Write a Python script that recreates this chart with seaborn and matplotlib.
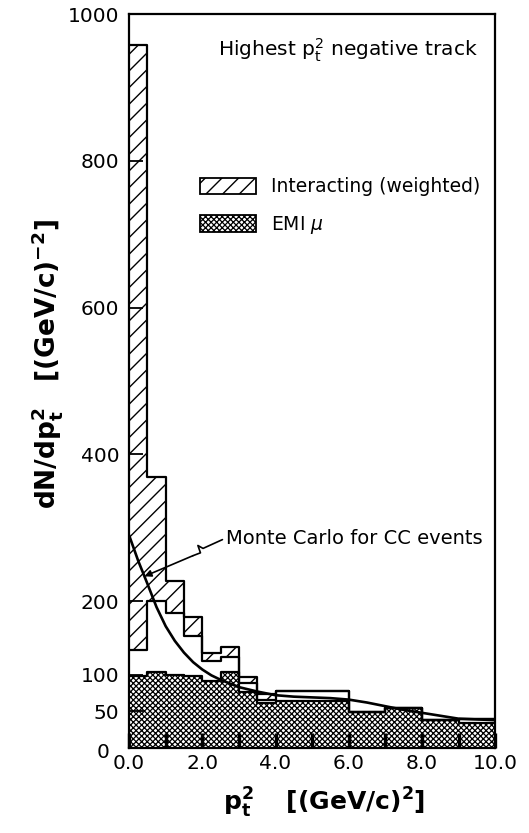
import numpy as np
import matplotlib
matplotlib.use("Agg")
import matplotlib.pyplot as plt
import matplotlib.transforms as mtransforms
from matplotlib.patches import Patch
import seaborn as sns

# p_t^2 bin edges, (GeV/c)^2
bin_edges = [0.0, 0.5, 1.0, 1.5, 2.0, 2.5, 3.0, 3.5, 4.0, 6.0, 7.0, 8.0, 9.0, 10.0]

# dN/dp_t^2 per bin, stacked from the bottom up
emi_mu = [98.5, 103.5, 100, 97.5, 92, 103, 76, 62, 63.5, 48.5, 54, 38.5, 34.5]
non_interacting = [34.5, 96.5, 84, 54.5, 26, 21, 13, 4, 14.5, 0, 0, 0, 5]
interacting_weighted = [825, 170, 44, 27, 11, 13, 8, 8, 0, 0, 0, 0, 0]

# Monte Carlo expectation for CC events
mc_pt2 = [0.0, 0.25, 0.5, 0.75, 1.0, 1.25, 1.5, 1.75, 2.0, 2.25, 2.5, 2.75, 3.0,
          3.5, 4.0, 4.5, 5.0, 5.5, 6.0, 6.5, 7.0, 7.5, 8.0, 8.5, 9.0, 9.5, 10.0]
mc_dndpt2 = [290, 255, 224, 192, 166, 146, 130, 117, 107, 99, 93, 88, 83,
             77, 72, 70, 69, 68, 66, 62, 57, 52, 48, 44, 40, 39, 38]

y_ticks = [0, 50, 100, 200, 400, 600, 800, 1000]
y_tick_labels = ["0", "50", "100", "200", "400", "600", "800", "1000"]
x_ticks = [0, 1, 2, 3, 4, 5, 6, 7, 8, 9, 10]
x_tick_labels = ["0.0", "", "2.0", "", "4.0", "", "6.0", "", "8.0", "", "10.0"]

EMI_HATCH = "xxxxxx"
EMI_HATCH_LW = 0.9

sns.set_style("ticks")
plt.rcParams["font.family"] = ["DejaVu Sans"]
plt.rcParams["mathtext.fontset"] = "dejavusans"
plt.rcParams["hatch.linewidth"] = 1.0
plt.rcParams["hatch.color"] = "black"
for key in ("text.color", "axes.labelcolor", "xtick.color", "ytick.color",
            "axes.edgecolor"):
    plt.rcParams[key] = "black"

fig = plt.figure(figsize=(5.29, 8.33), dpi=100)
ax = fig.add_axes([0.244, 0.102, 0.692, 0.881])

edges = np.array(bin_edges)
centers = list(0.5 * (edges[:-1] + edges[1:]))
level_emi = np.array(emi_mu, dtype=float)
level_mid = level_emi + np.array(non_interacting, dtype=float)
level_top = level_mid + np.array(interacting_weighted, dtype=float)


def fill_layer(heights, hatch):
    n_before = len(ax.patches)
    sns.histplot(x=centers, weights=list(heights), bins=bin_edges,
                 element="bars", fill=True, facecolor="white",
                 edgecolor="black", linewidth=0, hatch=hatch, ax=ax)
    return ax.patches[n_before:]


def outline_layer(heights):
    sns.histplot(x=centers, weights=list(heights), bins=bin_edges,
                 element="step", fill=False, color="black", linewidth=1.6,
                 ax=ax)


def fine_hatch(patches):
    for p in patches:
        if hasattr(p, "set_hatch_linewidth"):
            p.set_hatch_linewidth(EMI_HATCH_LW)


# hatched interacting part on top, plain band beneath, cross-hatched EMI mu at the bottom
fill_layer(level_top, "//")
fill_layer(level_mid, None)
with plt.rc_context({"hatch.linewidth": EMI_HATCH_LW}):
    fine_hatch(fill_layer(level_emi, EMI_HATCH))
for lev in (level_top, level_mid, level_emi):
    outline_layer(lev)

sns.lineplot(x=mc_pt2, y=mc_dndpt2, color="black", linewidth=1.9, ax=ax)

ax.set_axisbelow(False)
ax.set_xlim(0, 10)
ax.set_ylim(0, 1000)
ax.set_xticks(x_ticks)
ax.set_xticklabels(x_tick_labels)
ax.set_yticks(y_ticks)
ax.set_yticklabels(y_tick_labels)
ax.tick_params(axis="x", direction="in", length=11, width=2.4, pad=4,
               labelsize=14.5, bottom=True, top=False, colors="black")
ax.tick_params(axis="y", direction="in", length=10, width=1.3, pad=7,
               labelsize=14.5, left=True, right=False, colors="black")
for sp in ax.spines.values():
    sp.set_visible(True)
    sp.set_linewidth(1.6)
    sp.set_color("black")

# nudge the zero label away from the x-axis origin label
zero_lbl = ax.get_yticklabels()[0]
zero_lbl.set_transform(zero_lbl.get_transform() +
                       mtransforms.ScaledTranslation(-10 / 100, -2 / 100,
                                                     fig.dpi_scale_trans))

ax.set_ylabel(r"$\mathbf{dN/dp_t^2}$   $\mathbf{[(GeV/c)^{-2}]}$", fontsize=19,
              color="black")
ax.yaxis.set_label_coords(-0.175, 0.523)
ax.set_xlabel(r"$\mathbf{p_t^2}$    $\mathbf{[(GeV/c)^2]}$", fontsize=18,
              color="black")
ax.xaxis.set_label_coords(0.533, -0.052)

ax.text(0.954, 0.951, r"Highest $\mathregular{p_t^2}$ negative track",
        transform=ax.transAxes, ha="right", va="center", fontsize=14.5,
        color="black")

with plt.rc_context({"hatch.linewidth": EMI_HATCH_LW}):
    emi_handle = Patch(facecolor="white", edgecolor="black", hatch=EMI_HATCH,
                       linewidth=1.3)
fine_hatch([emi_handle])
handles = [
    Patch(facecolor="white", edgecolor="black", hatch="//", linewidth=1.3),
    emi_handle,
]
leg = ax.legend(handles, ["Interacting (weighted)", r"EMI $\mu$"],
                loc="upper left", bbox_to_anchor=(0.194, 0.778), frameon=False,
                fontsize=13.5, handlelength=3.0, handleheight=0.95,
                handletextpad=0.8, labelspacing=0.95, borderpad=0,
                borderaxespad=0, labelcolor="black")
fine_hatch(leg.get_patches()[1:])

# label and pointer for the Monte Carlo curve
ax.text(2.65, 285, "Monte Carlo for CC events", ha="left", va="center",
        fontsize=14, color="black")
ax.plot([2.55, 2.02, 1.88, 1.95, 1.74], [284, 272, 276, 266, 262],
        color="black", linewidth=1.2)
ax.annotate("", xy=(0.42, 234), xytext=(1.74, 262),
            arrowprops=dict(arrowstyle="-|>", color="black", lw=1.2,
                            mutation_scale=10, shrinkA=0, shrinkB=0))

fig.savefig("out.png", dpi=100)
